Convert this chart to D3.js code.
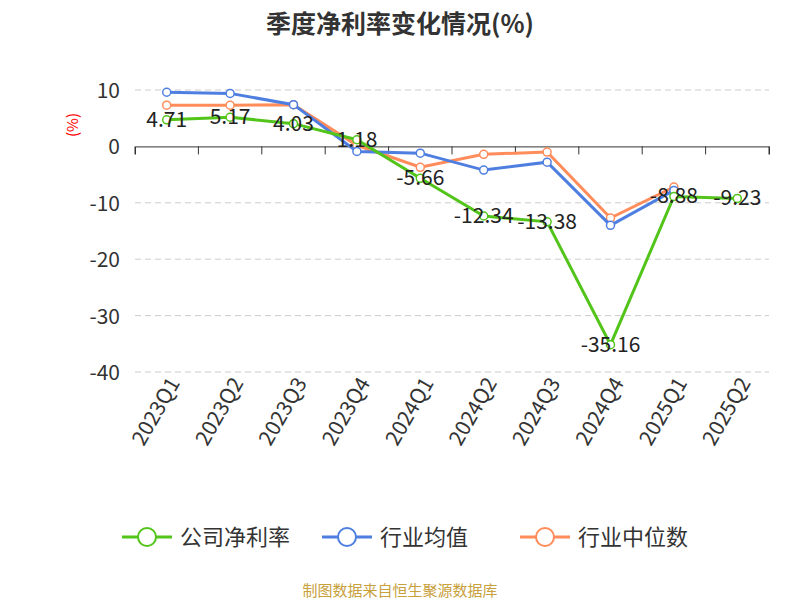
<!DOCTYPE html><html><head><meta charset="utf-8"><script src="https://cdn.jsdelivr.net/npm/d3@7"></script>
<style>body{margin:0;background:#fff;font-family:"Noto Sans CJK SC","Noto Sans",sans-serif}</style></head><body><svg id="c" width="800" height="600"></svg>
<script>
const categories=["2023Q1","2023Q2","2023Q3","2023Q4","2024Q1","2024Q2","2024Q3","2024Q4","2025Q1","2025Q2"];
const company=[4.71,5.17,4.03,1.18,-5.66,-12.34,-13.38,-35.16,-8.88,-9.23];
const industryAvg=[9.6,9.4,7.4,-0.9,-1.2,-4.2,-2.8,-14.0,-7.8,null];
const industryMed=[7.3,7.3,7.4,0.2,-3.7,-1.4,-1.0,-12.7,-7.2,null];
const yTicks=[10,0,-10,-20,-30,-40];
const seriesNames=["公司净利率","行业均值","行业中位数"];
const colors=["#52c41a","#4e7fe0","#ff8c5a"];
const svg=d3.select("#c");
const x=d3.scaleBand().domain(categories).range([135,769]);
const y=d3.scaleLinear().domain([-40,10]).range([372,90]);
svg.append("text").attr("x",400).attr("y",33).attr("text-anchor","middle").attr("font-size",25).attr("font-weight","bold").attr("fill","#333").text("季度净利率变化情况(%)");
yTicks.forEach(t=>{if(t!==0)svg.append("line").attr("x1",135).attr("x2",769).attr("y1",y(t)).attr("y2",y(t)).attr("stroke","#ccc").attr("stroke-dasharray","6,4");
svg.append("text").attr("x",120).attr("y",y(t)+8).attr("text-anchor","end").attr("font-size",21).attr("fill","#333").text(t);});
const ax=svg.append("g").attr("transform",`translate(0,${y(0)})`).call(d3.axisBottom(x).tickSize(8).tickFormat(""));
ax.select(".domain").attr("stroke","#333");ax.selectAll("line").attr("stroke","#333");
ax.selectAll("line").attr("transform",`translate(${x.bandwidth()/2},0)`);
svg.append("line").attr("x1",135).attr("x2",135).attr("y1",y(0)).attr("y2",y(0)+8).attr("stroke","#333");
svg.append("text").attr("transform","translate(78,125) rotate(-90)").attr("text-anchor","middle").attr("font-size",15).attr("fill","red").text("(%)");
categories.forEach(c=>{svg.append("text").attr("transform",`translate(${x(c)+x.bandwidth()/2+14},383) rotate(-60)`).attr("text-anchor","end").attr("font-size",21).attr("fill","#333").text(c);});
const cx=c=>x(c)+x.bandwidth()/2;
[[industryMed,2],[industryAvg,1],[company,0]].forEach(([data,i])=>{
 const pts=categories.map((c,k)=>[c,data[k]]).filter(d=>d[1]!=null);
 svg.append("path").attr("d",d3.line().x(d=>cx(d[0])).y(d=>y(d[1]))(pts)).attr("fill","none").attr("stroke",colors[i]).attr("stroke-width",3);
 pts.forEach(d=>svg.append("circle").attr("cx",cx(d[0])).attr("cy",y(d[1])).attr("r",4).attr("fill","#fff").attr("stroke",colors[i]).attr("stroke-width",1.5));
});
categories.forEach((c,k)=>svg.append("text").attr("x",cx(c)).attr("y",y(company[k])+7).attr("text-anchor","middle").attr("font-size",21).attr("fill","#222").text(company[k].toFixed(2)));
const lx=[122,322,520];
seriesNames.forEach((n,i)=>{const g=svg.append("g");
 g.append("line").attr("x1",lx[i]).attr("x2",lx[i]+50).attr("y1",537).attr("y2",537).attr("stroke",colors[i]).attr("stroke-width",3);
 g.append("circle").attr("cx",lx[i]+25).attr("cy",537).attr("r",9).attr("fill","#fff").attr("stroke",colors[i]).attr("stroke-width",2);
 g.append("text").attr("x",lx[i]+58).attr("y",545).attr("font-size",22).attr("fill","#333").text(n);});
svg.append("text").attr("x",400).attr("y",596).attr("text-anchor","middle").attr("font-size",15).attr("fill","#c8a03c").text("制图数据来自恒生聚源数据库");
</script></body></html>
